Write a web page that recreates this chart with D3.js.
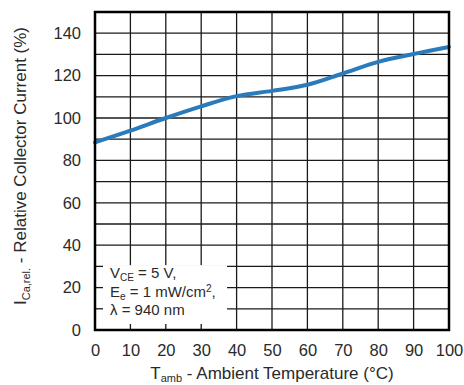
<!DOCTYPE html>
<html>
<head>
<meta charset="utf-8">
<script src="https://cdn.jsdelivr.net/npm/d3@7"></script>
<style>
  html, body { margin: 0; padding: 0; background: #fff; }
  svg { display: block; font-family: "Liberation Sans", Arial, sans-serif; }
</style>
</head>
<body>
<svg id="chart" width="464" height="385"></svg>
<script>
// Relative collector current vs. ambient temperature
const temperatures = [0, 10, 20, 30, 40, 50, 60, 70, 80, 90, 100];
const relCurrent   = [88.5, 94, 100, 105.5, 110.3, 112.8, 115.7, 121, 126.5, 130.2, 133.5];
const xTicks = [0, 10, 20, 30, 40, 50, 60, 70, 80, 90, 100];
const yTicks = [0, 20, 40, 60, 80, 100, 120, 140];
const yGrid  = [10, 20, 30, 40, 50, 60, 70, 80, 90, 100, 110, 120, 130, 140];
const xGrid  = [10, 20, 30, 40, 50, 60, 70, 80, 90];
const conditions = [
  { main: "V", sub: "CE", rest: " = 5 V," },
  { main: "E", sub: "e", rest: " = 1 mW/cm", sup: "2", tail: "," },
  { main: "λ = 940 nm" }
];

const margin = { left: 95, top: 12, right: 15, bottom: 55 };
const W = 464, H = 385;
const pw = W - margin.left - margin.right;
const ph = H - margin.top - margin.bottom;

const svg = d3.select("#chart");
const g = svg.append("g").attr("transform", `translate(${margin.left},${margin.top})`);

const x = d3.scaleLinear().domain([0, 100]).range([0, pw]);
const y = d3.scaleLinear().domain([0, 150]).range([ph, 0]);

const ink = "#1a1a1a";
const textCol = "#2a2a2a";

// grid
g.append("g").selectAll("line.h").data(yGrid).join("line")
  .attr("x1", 0).attr("x2", pw)
  .attr("y1", d => y(d)).attr("y2", d => y(d))
  .attr("stroke", ink).attr("stroke-width", 1.3);
g.append("g").selectAll("line.v").data(xGrid).join("line")
  .attr("x1", d => x(d)).attr("x2", d => x(d))
  .attr("y1", 0).attr("y2", ph)
  .attr("stroke", ink).attr("stroke-width", 1.3);

// condition box (clears the grid in the lower left corner)
const boxX = 37.3, boxY = 30.6;
g.append("rect")
  .attr("x", 0).attr("y", y(boxY))
  .attr("width", x(boxX)).attr("height", ph - y(boxY))
  .attr("fill", "#fff");

// short edge ticks inside the box area
g.append("g").selectAll("line").data([10, 20, 30]).join("line")
  .attr("x1", 0).attr("x2", 8)
  .attr("y1", d => y(d)).attr("y2", d => y(d))
  .attr("stroke", ink).attr("stroke-width", 1.3);
g.append("g").selectAll("line").data([10, 20, 30]).join("line")
  .attr("x1", d => x(d)).attr("x2", d => x(d))
  .attr("y1", ph).attr("y2", ph - 6)
  .attr("stroke", ink).attr("stroke-width", 1.3);

// condition text
const cond = g.append("g").attr("fill", textCol).attr("font-size", 15);
const baselines = [278, 297, 315].map(v => v - margin.top);
conditions.forEach((c, i) => {
  const t = cond.append("text").attr("x", 15).attr("y", baselines[i]);
  t.append("tspan").text(c.main);
  if (c.sub) t.append("tspan").attr("font-size", 10).attr("dy", 3).text(c.sub);
  if (c.rest) t.append("tspan").attr("dy", c.sub ? -3 : 0).text(c.rest);
  if (c.sup) t.append("tspan").attr("font-size", 10).attr("dy", -5).text(c.sup);
  if (c.tail) t.append("tspan").attr("dy", 5).text(c.tail);
});

// curve
const line = d3.line()
  .x((d, i) => x(temperatures[i]))
  .y(d => y(d))
  .curve(d3.curveMonotoneX);
g.append("path")
  .datum(relCurrent)
  .attr("d", line)
  .attr("fill", "none")
  .attr("stroke", "#2a7bbb")
  .attr("stroke-width", 4)
  .attr("stroke-linecap", "round");

// frame
g.append("rect")
  .attr("x", 0).attr("y", 0).attr("width", pw).attr("height", ph)
  .attr("fill", "none").attr("stroke", "#000").attr("stroke-width", 2.5);

// axes (labels only)
const xAxis = g.append("g").attr("transform", `translate(0,${ph})`)
  .call(d3.axisBottom(x).tickValues(xTicks).tickSize(0).tickPadding(14.5).tickFormat(d3.format("d")));
const yAxis = g.append("g")
  .call(d3.axisLeft(y).tickValues(yTicks).tickSize(0).tickPadding(14).tickFormat(d3.format("d")));
[xAxis, yAxis].forEach(a => {
  a.select(".domain").remove();
  a.selectAll("text").attr("font-size", 16.5).attr("fill", textCol)
    .attr("font-family", "'Liberation Sans', Arial, sans-serif");
});

// axis titles
const xt = svg.append("text")
  .attr("x", margin.left + pw / 2).attr("y", 379)
  .attr("text-anchor", "middle").attr("font-size", 17).attr("fill", textCol);
xt.append("tspan").text("T");
xt.append("tspan").attr("font-size", 11).attr("dy", 3).text("amb");
xt.append("tspan").attr("dy", -3).text(" - Ambient Temperature (°C)");

const yt = svg.append("text")
  .attr("transform", `translate(26,166) rotate(-90)`)
  .attr("text-anchor", "middle").attr("font-size", 17).attr("fill", textCol);
yt.append("tspan").text("I");
yt.append("tspan").attr("font-size", 11).attr("dy", 4).text("Ca,rel.");
yt.append("tspan").attr("dy", -4).text(" - Relative Collector Current (%)");
</script>
</body>
</html>
